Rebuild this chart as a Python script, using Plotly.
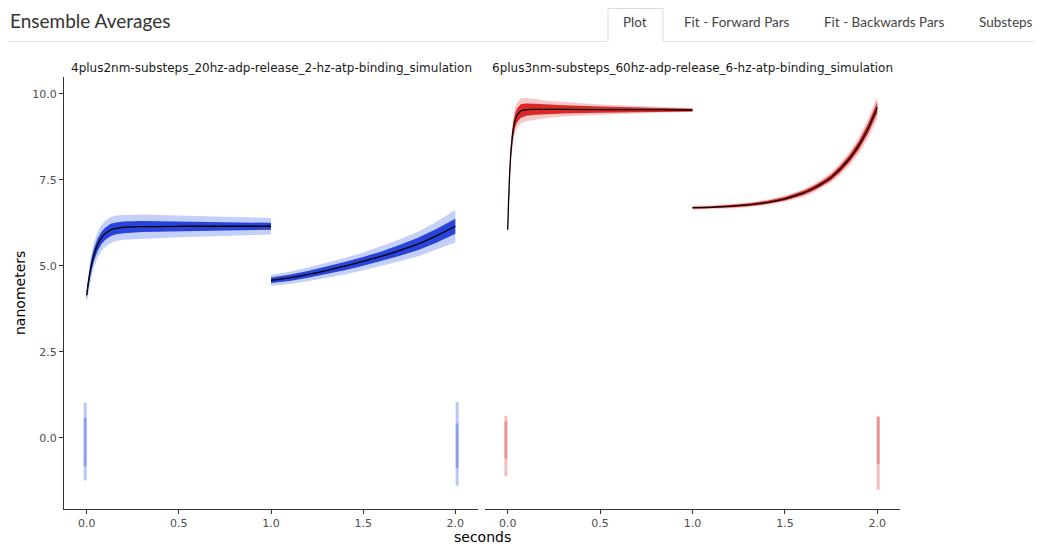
import plotly.graph_objects as go

# ---- data ----
# left facet: 4plus2nm, 20 Hz / 2 Hz
l_fwd_t = [0, 0.01, 0.02, 0.03, 0.04, 0.06, 0.08, 0.10, 0.13, 0.16, 0.2, 0.3, 0.5, 0.75, 1.0]
l_fwd_fit = [4.15, 4.55, 4.87, 5.12, 5.33, 5.62, 5.81, 5.93, 6.04, 6.09, 6.12, 6.14, 6.15, 6.15, 6.15]
l_fwd_core = [0.12, 0.15, 0.17, 0.18, 0.18, 0.18, 0.18, 0.18, 0.18, 0.17, 0.17, 0.16, 0.14, 0.12, 0.10]
l_fwd_outer = [0.22, 0.30, 0.33, 0.35, 0.36, 0.37, 0.38, 0.38, 0.38, 0.37, 0.36, 0.35, 0.32, 0.28, 0.24]

l_bwd_t = [1.0, 1.1, 1.2, 1.3, 1.4, 1.5, 1.6, 1.7, 1.8, 1.9, 2.0]
l_bwd_fit = [4.58, 4.65, 4.75, 4.86, 4.99, 5.13, 5.28, 5.45, 5.64, 5.88, 6.15]
l_bwd_core = [0.08, 0.09, 0.10, 0.11, 0.12, 0.13, 0.14, 0.16, 0.18, 0.20, 0.22]
l_bwd_outer = [0.16, 0.18, 0.20, 0.22, 0.24, 0.26, 0.29, 0.32, 0.36, 0.41, 0.47]

# right facet: 6plus3nm, 60 Hz / 6 Hz
r_fwd_t = [0, 0.005, 0.01, 0.015, 0.02, 0.03, 0.04, 0.05, 0.07, 0.1, 0.15, 0.2, 0.3, 0.5, 0.75, 1.0]
r_fwd_fit = [6.05, 6.96, 7.63, 8.13, 8.49, 8.97, 9.23, 9.37, 9.50, 9.54, 9.55, 9.55, 9.55, 9.54, 9.54, 9.53]
r_fwd_core = [0.08, 0.12, 0.15, 0.17, 0.18, 0.20, 0.20, 0.20, 0.20, 0.18, 0.16, 0.14, 0.12, 0.09, 0.06, 0.04]
r_fwd_outer = [0.15, 0.25, 0.30, 0.33, 0.35, 0.37, 0.38, 0.38, 0.37, 0.34, 0.30, 0.26, 0.21, 0.15, 0.10, 0.06]

r_bwd_t = [1.0, 1.1, 1.2, 1.3, 1.4, 1.5, 1.6, 1.65, 1.7, 1.75, 1.8, 1.85, 1.9, 1.95, 2.0]
r_bwd_fit = [6.69, 6.70, 6.73, 6.77, 6.84, 6.95, 7.12, 7.24, 7.39, 7.57, 7.82, 8.12, 8.50, 8.99, 9.60]
r_bwd_core = [0.03, 0.03, 0.035, 0.04, 0.045, 0.05, 0.06, 0.065, 0.07, 0.08, 0.09, 0.10, 0.12, 0.14, 0.16]
r_bwd_outer = [0.06, 0.06, 0.065, 0.07, 0.08, 0.09, 0.11, 0.12, 0.13, 0.15, 0.17, 0.20, 0.24, 0.28, 0.33]

# baseline (zero) clusters at start / end of each facet
l_zero_t = [-0.008, 2.01]
l_zero_outer = [(-1.24, 1.02), (-1.39, 1.04)]
l_zero_core = [(-0.83, 0.58), (-0.89, 0.42)]
r_zero_t = [-0.01, 2.005]
r_zero_outer = [(-1.12, 0.64), (-1.51, 0.63)]
r_zero_core = [(-0.59, 0.47), (-0.77, 0.60)]

facet_titles = ["4plus2nm-substeps_20hz-adp-release_2-hz-atp-binding_simulation",
                "6plus3nm-substeps_60hz-adp-release_6-hz-atp-binding_simulation"]
tabs = ["Plot", "Fit - Forward Pars", "Fit - Backwards Pars", "Substeps"]
x_ticks = [0.0, 0.5, 1.0, 1.5, 2.0]
y_ticks = [0.0, 2.5, 5.0, 7.5, 10.0]

# the page body has an 8px margin, so the figure is drawn 8px in from the window edge
OFF = 8
W, H = 1043 - OFF, 558 - OFF
ML, MR, MT, MB = 64 - OFF, 143, 77 - OFF, 49


def px2x(px):
    # window pixel -> paper x
    return (px - OFF - ML) / (W - ML - MR)


def py2y(py):
    # window pixel -> paper y
    return (H - MB - (py - OFF)) / (H - MT - MB)


BLUE_CORE = "rgba(18,48,212,0.88)"
BLUE_OUT = "rgba(45,85,230,0.28)"
BLUE_DOTS = "rgba(40,80,225,0.32)"
RED_CORE = "rgba(214,18,18,0.88)"
RED_OUT = "rgba(228,60,60,0.28)"
RED_DOTS = "rgba(225,50,50,0.32)"

fig = go.Figure()


def band(t, fit, spread, color, xa):
    lo = [f - s for f, s in zip(fit, spread)]
    hi = [f + s for f, s in zip(fit, spread)]
    fig.add_trace(go.Scatter(x=t, y=lo, mode="lines", line=dict(width=0, color=color),
                             xaxis=xa, yaxis="y", hoverinfo="skip", showlegend=False))
    fig.add_trace(go.Scatter(x=t, y=hi, mode="lines", line=dict(width=0, color=color),
                             fill="tonexty", fillcolor=color,
                             xaxis=xa, yaxis="y", hoverinfo="skip", showlegend=False))


def segment(t, fit, core, outer, c_core, c_out, xa):
    band(t, fit, outer, c_out, xa)
    band(t, fit, core, c_core, xa)
    fig.add_trace(go.Scatter(x=t, y=fit, mode="lines", line=dict(color="black", width=1.3, shape="spline"),
                             xaxis=xa, yaxis="y", showlegend=False))


def zeros(ts, outer, core, c_dots, xa):
    for t, o, c in zip(ts, outer, core):
        fig.add_trace(go.Scatter(x=[t, t], y=list(o), mode="lines", line=dict(color=c_dots, width=3),
                                 xaxis=xa, yaxis="y", hoverinfo="skip", showlegend=False))
        fig.add_trace(go.Scatter(x=[t, t], y=list(c), mode="lines", line=dict(color=c_dots, width=3),
                                 xaxis=xa, yaxis="y", hoverinfo="skip", showlegend=False))


segment(l_fwd_t, l_fwd_fit, l_fwd_core, l_fwd_outer, BLUE_CORE, BLUE_OUT, "x")
segment(l_bwd_t, l_bwd_fit, l_bwd_core, l_bwd_outer, BLUE_CORE, BLUE_OUT, "x")
zeros(l_zero_t, l_zero_outer, l_zero_core, BLUE_DOTS, "x")
segment(r_fwd_t, r_fwd_fit, r_fwd_core, r_fwd_outer, RED_CORE, RED_OUT, "x2")
segment(r_bwd_t, r_bwd_fit, r_bwd_core, r_bwd_outer, RED_CORE, RED_OUT, "x2")
zeros(r_zero_t, r_zero_outer, r_zero_core, RED_DOTS, "x2")

axis_font = dict(family="DejaVu Sans", size=11, color="#4d4d4d")
xcommon = dict(range=[-0.123, 2.123], tickvals=x_ticks, ticktext=[f"{v:.1f}" for v in x_ticks],
               showgrid=False, zeroline=False, showline=True, linecolor="#333333", linewidth=1,
               ticks="outside", ticklen=4, tickcolor="#333333", tickfont=axis_font, anchor="y")

annotations = [
    dict(text="Ensemble Averages", x=px2x(8), y=py2y(20), xref="paper", yref="paper",
         xanchor="left", yanchor="middle", showarrow=False,
         font=dict(family="Lato", size=19, color="#333333")),
    dict(text=facet_titles[0], x=px2x(271), y=py2y(68), xref="paper", yref="paper",
         xanchor="center", yanchor="middle", showarrow=False,
         font=dict(family="DejaVu Sans", size=12, color="#1a1a1a")),
    dict(text=facet_titles[1], x=px2x(692.5), y=py2y(68), xref="paper", yref="paper",
         xanchor="center", yanchor="middle", showarrow=False,
         font=dict(family="DejaVu Sans", size=12, color="#1a1a1a")),
    dict(text="seconds", x=px2x(482), y=py2y(537), xref="paper", yref="paper",
         xanchor="center", yanchor="middle", showarrow=False,
         font=dict(family="DejaVu Sans", size=14, color="black")),
    dict(text="nanometers", x=px2x(20), y=py2y(293), xref="paper", yref="paper",
         xanchor="center", yanchor="middle", showarrow=False, textangle=-90,
         font=dict(family="DejaVu Sans", size=14, color="black")),
]
for name, cx in zip(tabs, [635, 737, 884, 1006]):
    annotations.append(dict(text=name, x=px2x(cx), y=py2y(22), xref="paper", yref="paper",
                            xanchor="center", yanchor="middle", showarrow=False,
                            font=dict(family="Lato", size=13.5, color="#444444")))

shapes = [
    dict(type="line", xref="paper", yref="paper", x0=px2x(OFF), x1=px2x(608), y0=py2y(41.5), y1=py2y(41.5),
         line=dict(color="#e3e3e3", width=1)),
    dict(type="line", xref="paper", yref="paper", x0=px2x(663), x1=px2x(1043), y0=py2y(41.5), y1=py2y(41.5),
         line=dict(color="#e3e3e3", width=1)),
    dict(type="path", xref="paper", yref="paper",
         path=f"M {px2x(608)},{py2y(42)} L {px2x(608)},{py2y(8.5)} L {px2x(663)},{py2y(8.5)} L {px2x(663)},{py2y(42)}",
         line=dict(color="#dddddd", width=1)),
]

fig.update_layout(
    width=W, height=H,
    margin=dict(l=ML, r=MR, t=MT, b=MB),
    paper_bgcolor="white", plot_bgcolor="white",
    showlegend=False,
    xaxis=dict(domain=[0, px2x(478)], **xcommon),
    xaxis2=dict(domain=[px2x(485), 1], **xcommon),
    yaxis=dict(range=[-2.07, 10.49], tickvals=y_ticks, ticktext=[f"{v:.1f}" for v in y_ticks],
               showgrid=False, zeroline=False, showline=True, linecolor="#333333", linewidth=1,
               ticks="outside", ticklen=4, tickcolor="#333333", tickfont=axis_font, anchor="x"),
    annotations=annotations,
    shapes=shapes,
)

fig.write_html("out.html")
